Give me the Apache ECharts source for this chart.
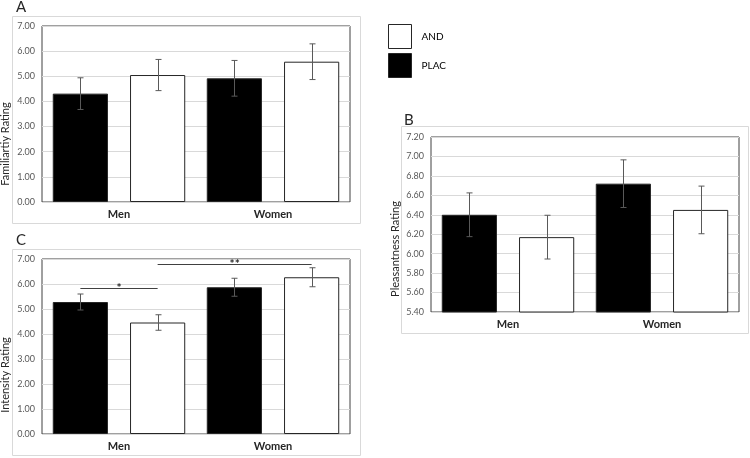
<!DOCTYPE html>
<html>
<head>
<meta charset="utf-8">
<script src="https://cdn.jsdelivr.net/npm/echarts@6/dist/echarts.min.js"></script>
<style>
html,body{margin:0;padding:0;background:#fff;}
#c{width:750px;height:458px;}
</style>
</head>
<body>
<div id="c"></div>
<script>
// ---- data ----
const categories = ['Men', 'Women'];
const seriesNames = ['PLAC', 'AND'];
// Panel A: Familiarity
const famPLAC = [4.31, 4.92];
const famAND = [5.05, 5.58];
const famErrPLAC = [0.63, 0.71];
const famErrAND = [0.62, 0.71];
// Panel B: Pleasantness
const plePLAC = [6.40, 6.72];
const pleAND = [6.17, 6.45];
const pleErrPLAC = [0.225, 0.245];
const pleErrAND = [0.225, 0.245];
// Panel C: Intensity
const intPLAC = [5.28, 5.87];
const intAND = [4.46, 6.27];
const intErrPLAC = [0.32, 0.36];
const intErrAND = [0.31, 0.38];
// significance brackets in C: [fromCat, fromSeries, toCat, toSeries, y]
const sigBrackets = [[0, 0, 0, 1, 5.83], [0, 1, 1, 1, 6.80]];
const sigLabels = ['*', '**'];
// axis ticks
const ticksA = { min: 0, max: 7, interval: 1 };
const ticksB = { min: 5.4, max: 7.2, interval: 0.2 };
const ticksC = { min: 0, max: 7, interval: 1 };
const axisTitles = ['Familiartiy Rating', 'Pleasantness Rating', 'Intensity Rating'];
const panelLetters = ['A', 'B', 'C'];

// ---- chart ----
const FONT = 'Lato, "Open Sans", sans-serif';
const chart = echarts.init(document.getElementById('c'));

const BCG = 0.14, BG = 0.4;
const barW = (1 - BCG) / (2 + BG);
const centerOff = (barW + BG * barW) / 2;

function grid(left, top, width, height) {
  return { left, top, width, height, show: true, borderColor: '#404040', borderWidth: 1, backgroundColor: 'transparent' };
}
function xAx(gi) {
  return {
    type: 'category', data: categories, gridIndex: gi,
    axisLine: { show: false }, axisTick: { show: false },
    axisLabel: { fontFamily: FONT, fontWeight: 'bold', fontSize: 11, color: '#262626', margin: 7 }
  };
}
function yAx(gi, t) {
  return {
    type: 'value', gridIndex: gi, min: t.min, max: t.max, interval: t.interval,
    axisLine: { show: false }, axisTick: { show: false },
    splitLine: { lineStyle: { color: '#d9d9d9', width: 1 } },
    axisLabel: { fontFamily: FONT, fontSize: 9, color: '#595959', margin: 7, formatter: v => v.toFixed(2) }
  };
}
function bars(gi, name, vals) {
  const isP = name === 'PLAC';
  return {
    type: 'bar', name, data: vals, xAxisIndex: gi, yAxisIndex: gi,
    barCategoryGap: (BCG * 100) + '%', barGap: (BG * 100) + '%',
    itemStyle: { color: isP ? '#000' : '#fff', borderColor: '#262626', borderWidth: 1 },
    emphasis: { disabled: true }, silent: true
  };
}
function errData(errP, errA, valsP, valsA) {
  const d = [];
  for (let i = 0; i < categories.length; i++) {
    d.push([i, 0, valsP[i] - errP[i], valsP[i] + errP[i]]);
    d.push([i, 1, valsA[i] - errA[i], valsA[i] + errA[i]]);
  }
  return d;
}
function errSeries(gi, data) {
  return {
    type: 'custom', xAxisIndex: gi, yAxisIndex: gi, data, silent: true, z: 5,
    encode: { x: 0, y: [2, 3] },
    renderItem: function (params, api) {
      const cat = api.value(0), s = api.value(1);
      const band = api.size([1, 0])[0];
      const off = (s === 0 ? -1 : 1) * centerOff * band;
      const lo = api.coord([cat, api.value(2)]);
      const hi = api.coord([cat, api.value(3)]);
      const x = Math.round(lo[0] + off) + 0.5;
      const cap = 3;
      const st = { stroke: '#595959', lineWidth: 1 };
      return {
        type: 'group', children: [
          { type: 'line', shape: { x1: x, y1: lo[1], x2: x, y2: hi[1] }, style: st },
          { type: 'line', shape: { x1: x - cap, y1: lo[1], x2: x + cap, y2: lo[1] }, style: st },
          { type: 'line', shape: { x1: x - cap, y1: hi[1], x2: x + cap, y2: hi[1] }, style: st }
        ]
      };
    }
  };
}
const sigSeries = {
  type: 'custom', xAxisIndex: 2, yAxisIndex: 2, silent: true, z: 6,
  data: sigBrackets.map((b, i) => b.concat([i])),
  encode: { x: [0, 2], y: 4 },
  renderItem: function (params, api) {
    const band = api.size([1, 0])[0];
    const p1 = api.coord([api.value(0), api.value(4)]);
    const p2 = api.coord([api.value(2), api.value(4)]);
    const x1 = p1[0] + (api.value(1) === 0 ? -1 : 1) * centerOff * band;
    const x2 = p2[0] + (api.value(3) === 0 ? -1 : 1) * centerOff * band;
    const y = Math.round(p1[1]) + 0.5;
    const lab = sigLabels[api.value(5)];
    return {
      type: 'group', children: [
        { type: 'line', shape: { x1, y1: y, x2, y2: y }, style: { stroke: '#404040', lineWidth: 1 } },
        { type: 'text', x: (x1 + x2) / 2, y: y + 6, style: { text: lab, fill: '#262626', font: 'bold 12px ' + FONT, align: 'center', verticalAlign: 'bottom' } }
      ]
    };
  }
};

const frameStyle = { fill: 'none', stroke: '#d9d9d9', lineWidth: 1 };
const titleStyle = (t) => ({ text: t, fill: '#262626', font: '11px ' + FONT, align: 'center', verticalAlign: 'middle' });
const letterStyle = (t) => ({ text: t, fill: '#262626', font: '15px ' + FONT, align: 'left', verticalAlign: 'middle' });

chart.setOption({
  animation: false,
  textStyle: { fontFamily: FONT },
  grid: [grid(42, 26, 308, 176), grid(431, 137, 308, 175), grid(42, 259, 308, 175)],
  xAxis: [xAx(0), xAx(1), xAx(2)],
  yAxis: [yAx(0, ticksA), yAx(1, ticksB), yAx(2, ticksC)],
  legend: {
    orient: 'vertical', left: 383, top: 19, itemWidth: 23, itemHeight: 24, itemGap: 4,
    data: ['AND', 'PLAC'], icon: 'rect', selectedMode: false,
    itemStyle: { borderColor: '#262626', borderWidth: 1 },
    textStyle: { fontFamily: FONT, fontSize: 10, color: '#000', padding: [0, 0, 0, 5] }
  },
  graphic: [
    { type: 'rect', shape: { x: 12.5, y: 16.5, width: 348, height: 207 }, style: frameStyle, silent: true, z: -1 },
    { type: 'rect', shape: { x: 401.5, y: 126.5, width: 347, height: 207 }, style: frameStyle, silent: true, z: -1 },
    { type: 'rect', shape: { x: 12.5, y: 249.5, width: 348, height: 206 }, style: frameStyle, silent: true, z: -1 },
    { type: 'text', x: 5, y: 144, rotation: Math.PI / 2, style: titleStyle(axisTitles[0]), silent: true },
    { type: 'text', x: 395, y: 249, rotation: Math.PI / 2, style: titleStyle(axisTitles[1]), silent: true },
    { type: 'text', x: 5, y: 375, rotation: Math.PI / 2, style: titleStyle(axisTitles[2]), silent: true },
    { type: 'text', x: 16, y: 7, style: letterStyle(panelLetters[0]), silent: true },
    { type: 'text', x: 404, y: 120, style: letterStyle(panelLetters[1]), silent: true },
    { type: 'text', x: 16, y: 240, style: letterStyle(panelLetters[2]), silent: true }
  ],
  series: [
    bars(0, 'PLAC', famPLAC), bars(0, 'AND', famAND),
    bars(1, 'PLAC', plePLAC), bars(1, 'AND', pleAND),
    bars(2, 'PLAC', intPLAC), bars(2, 'AND', intAND),
    errSeries(0, errData(famErrPLAC, famErrAND, famPLAC, famAND)),
    errSeries(1, errData(pleErrPLAC, pleErrAND, plePLAC, pleAND)),
    errSeries(2, errData(intErrPLAC, intErrAND, intPLAC, intAND)),
    sigSeries
  ]
});
</script>
</body>
</html>
